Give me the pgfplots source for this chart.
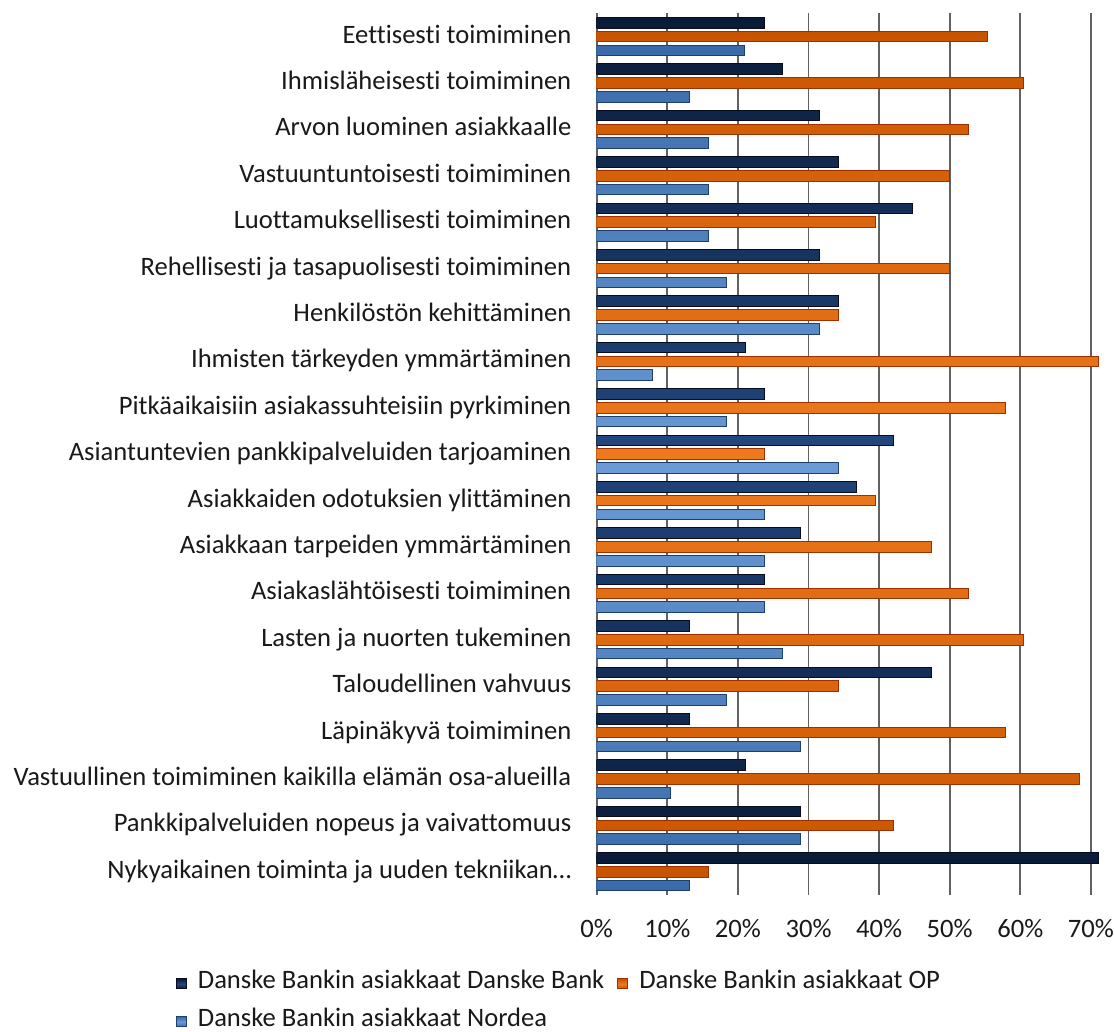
\documentclass[border=0pt]{standalone}
\usepackage{fontspec}
\setmainfont{Carlito}[Ligatures={NoCommon}]
\usepackage{pgfplots}
\pgfplotsset{compat=1.18}
\usepackage{pgfplotstable}

\definecolor{dbA}{HTML}{0A1B38}
\definecolor{dbB}{HTML}{21467D}
\definecolor{dbE}{HTML}{050C1C}
\definecolor{opA}{HTML}{C85400}
\definecolor{opB}{HTML}{EE7A1E}
\definecolor{opE}{HTML}{9E3000}
\definecolor{nA}{HTML}{3A6BA8}
\definecolor{nB}{HTML}{6A9BD6}
\definecolor{nE}{HTML}{1E3F6E}

\pgfplotstableread{
cat db op nd
1 23.7 55.3 21.0
2 26.3 60.5 13.2
3 31.6 52.6 15.8
4 34.2 50.0 15.8
5 44.7 39.5 15.8
6 31.6 50.0 18.4
7 34.2 34.2 31.6
8 21.1 71.1 7.9
9 23.7 57.9 18.4
10 42.1 23.7 34.2
11 36.8 39.5 23.7
12 28.9 47.4 23.7
13 23.7 52.6 23.7
14 13.2 60.5 26.3
15 47.4 34.2 18.4
16 13.2 57.9 28.9
17 21.1 68.4 10.5
18 28.9 42.1 28.9
19 71.1 15.8 13.2
}\data

\newcommand{\lblfont}{\fontsize{13.3}{15}\selectfont}

\begin{document}
\begin{tikzpicture}
\path[use as bounding box] (-298.35pt,-68.5pt) rectangle (258.65pt,447.5pt);
\begin{axis}[
  at={(0,0)}, anchor=south west,
  scale only axis, width=254.2pt, height=440.75pt,
  xmin=0, xmax=72, ymin=0.5, ymax=19.5, y dir=reverse,
  xbar=1.6pt, bar width=5.3pt,
  axis line style={draw=none},
  major tick length=0pt, tick style={draw=none},
  xmajorgrids, major grid style={black!62, line width=0.9pt},
  xtick={0,10,...,70},
  xticklabels={0\%,10\%,20\%,30\%,40\%,50\%,60\%,70\%},
  ytick={1,...,19},
  yticklabels={Eettisesti toimiminen,
    Ihmisläheisesti toimiminen,
    Arvon luominen asiakkaalle,
    Vastuuntuntoisesti toimiminen,
    Luottamuksellisesti toimiminen,
    Rehellisesti ja tasapuolisesti toimiminen,
    Henkilöstön kehittäminen,
    Ihmisten tärkeyden ymmärtäminen,
    Pitkäaikaisiin asiakassuhteisiin pyrkiminen,
    Asiantuntevien pankkipalveluiden tarjoaminen,
    Asiakkaiden odotuksien ylittäminen,
    Asiakkaan tarpeiden ymmärtäminen,
    Asiakaslähtöisesti toimiminen,
    Lasten ja nuorten tukeminen,
    Taloudellinen vahvuus,
    Läpinäkyvä toimiminen,
    Vastuullinen toimiminen kaikilla elämän osa-alueilla,
    Pankkipalveluiden nopeus ja vaivattomuus,
    Nykyaikainen toiminta ja uuden tekniikan…},
  yticklabel style={font=\lblfont, anchor=east, inner sep=0pt, text height=0.75em, text depth=0.106em, xshift=-12.5pt, text=black!90},
  xticklabel style={font=\lblfont, anchor=north, inner sep=0pt, text height=0.75em, text depth=0.106em, yshift=-13.5pt, text=black!90},
  legend columns=2,
  legend cell align=left,
  legend style={draw=none, fill=none, at={(-0.8277,-0.0895)}, anchor=north west,
    inner sep=0pt, outer sep=0pt, font=\lblfont, text=black!90,
    nodes={inner sep=0pt, text height=0.75em, text depth=0.25em},
    row sep=9pt,
    /tikz/every odd column/.append style={column sep=5.5pt},
    /tikz/every even column/.append style={column sep=6.5pt}},
  legend image code/.code={\draw[#1] (0pt,-2.5pt) rectangle (5pt,2.5pt);},
]
\addplot[draw=dbE, line width=0.5pt, top color=dbA, bottom color=dbA, middle color=dbB, /pgf/bar shift=6.9pt] table[x=db, y=cat] {\data};
\addplot[draw=opE, line width=0.5pt, top color=opA, bottom color=opA, middle color=opB, /pgf/bar shift=0pt] table[x=op, y=cat] {\data};
\addplot[draw=nE, line width=0.5pt, top color=nA, bottom color=nA, middle color=nB, /pgf/bar shift=-6.9pt] table[x=nd, y=cat] {\data};
\legend{Danske Bankin asiakkaat Danske Bank, Danske Bankin asiakkaat OP, Danske Bankin asiakkaat Nordea}
\end{axis}
\end{tikzpicture}
\end{document}
